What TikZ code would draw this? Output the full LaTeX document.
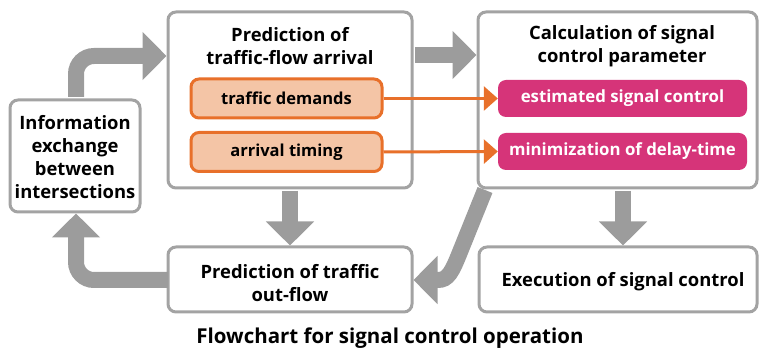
\documentclass[tikz,border=0pt]{standalone}
\usepackage{fontspec}
\setmainfont{Open Sans}
\usetikzlibrary{arrows.meta}
\definecolor{boxgray}{HTML}{A3A3A3}
\definecolor{arrgray}{HTML}{9C9C9C}
\definecolor{orangec}{HTML}{E8702A}
\definecolor{orangefill}{HTML}{F4C5A6}
\definecolor{magentac}{HTML}{D63479}
\tikzset{
  box/.style={draw=boxgray, line width=3pt, rounded corners=8pt, fill=white, inner sep=0pt},
  obox/.style={draw=orangec, line width=3pt, rounded corners=8pt, fill=orangefill, inner sep=0pt,
    minimum width=191pt, minimum height=39pt, font=\fontsize{16.5}{20}\selectfont\bfseries},
  mbox/.style={fill=magentac, rounded corners=8pt, inner sep=0pt, text=white,
    minimum width=249pt, minimum height=37pt, font=\fontsize{16.8}{20}\selectfont\bfseries},
  btext/.style={align=center, inner sep=0pt, font=\fontsize{18.4}{23}\selectfont\bfseries},
  garrow/.style={draw=arrgray, line width=16pt, -{Triangle[width=47pt,length=24pt]}},
  oarrow/.style={draw=orangec, line width=3pt, -{Triangle[width=24pt,length=14pt]}},
}
\begin{document}
\begin{tikzpicture}[x=1pt,y=-1pt]
\useasboundingbox (0,0) rectangle (764,352);
% boxes
\node[box, minimum width=130pt, minimum height=112pt] (info) at (75,156) {};
\node[box, minimum width=244pt, minimum height=176pt] (pred) at (290,100) {};
\node[box, minimum width=279pt, minimum height=176pt] (calc) at (617.5,100) {};
\node[box, minimum width=244pt, minimum height=65pt] (outflow) at (290,279.5) {};
\node[box, minimum width=278pt, minimum height=65pt] (exec) at (618,279.5) {};
% texts
\node[btext] (infot) at (75,157.5) {Information\\exchange\\between\\intersections};
\node[btext] (predt) at (290,46.5) {Prediction of\\traffic-flow arrival};
\node[btext] (calct) at (622,46.5) {Calculation of signal\\control parameter};
\node[btext] (outt) at (290,283.5) {Prediction of traffic\\out-flow};
\node[btext] (exect) at (623,282) {Execution of signal control};
\node[btext, font=\fontsize{20.5}{24}\selectfont\bfseries] (title) at (390,338) {Flowchart for signal control operation};
% inner boxes
\node[obox] (demand) at (286.5,98.5) {traffic demands};
\node[obox] (timing) at (286.5,152) {arrival timing};
\node[mbox] (est) at (622.5,98.5) {estimated signal control};
\node[mbox] (mini) at (622.5,151.5) {minimization of delay-time};
% orange arrows
\draw[oarrow] (demand.east) -- (est.west);
\draw[oarrow] (timing.east) -- (mini.west);
% gray arrows
\coordinate (c1) at (485,190);
\draw[garrow, rounded corners=18pt] ([xshift=1pt,yshift=1.5pt]info.north) |- (pred.west |- 0,56);
\draw[garrow] ([xshift=1.5pt]pred.east |- 0,55) -- (calc.west |- 0,55);
\draw[garrow] ([yshift=-1.5pt]pred.south) -- (outflow.north);
\draw[garrow] ([yshift=-1.5pt]calc.south -| 623,0) -- (exec.north -| 623,0);
\draw[garrow, rounded corners=18pt] ([xshift=1.5pt]outflow.west |- 0,280) -| ([xshift=1pt]info.south);
\draw[garrow] (c1) -- (460,252) .. controls (452,272) and (448,280) .. (438,280) -- (outflow.east |- 0,280);
\end{tikzpicture}
\end{document}
